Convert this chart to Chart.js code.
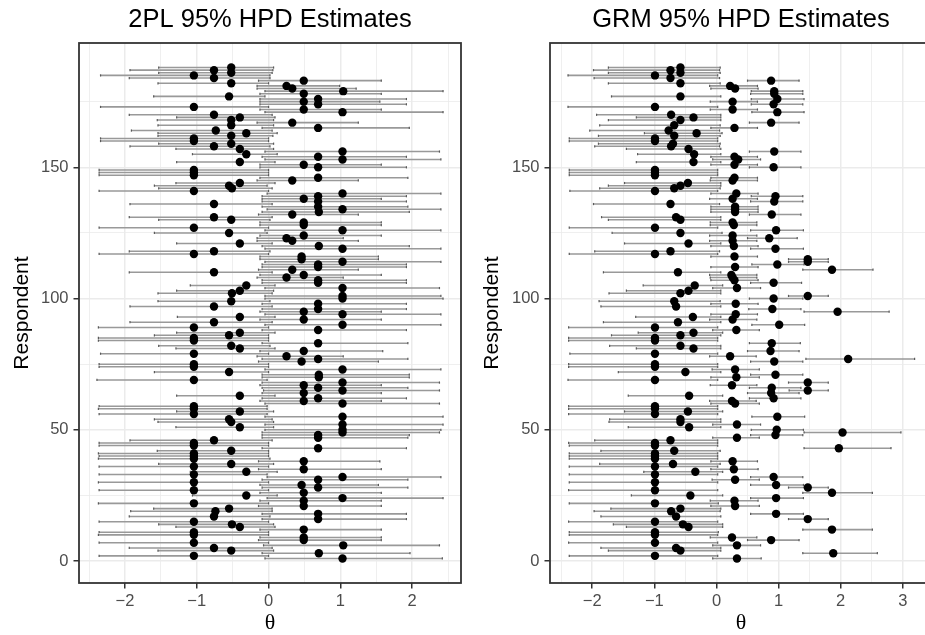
<!DOCTYPE html>
<html>
<head>
<meta charset="utf-8">
<script src="https://cdn.jsdelivr.net/npm/chart.js@4.4.0/dist/chart.umd.min.js"></script>
<style>
  html, body { margin: 0; padding: 0; background: #fff; overflow: hidden; }
  #wrap { position: relative; width: 925px; height: 635px; overflow: hidden; }
  canvas { position: absolute; top: 0; }
  #left { left: 0; }
  #right { left: 470px; }
</style>
</head>
<body>
<div id="wrap">
  <canvas id="left" width="470" height="635"></canvas>
  <canvas id="right" width="470" height="635"></canvas>
</div>
<script>
// respondent i is at index i-1 in every array
const est2pl = [
  1.03, -1.04, 0.70, -0.52, -0.76, 1.04, -1.04, 0.49, 0.49, -1.04,
  -1.04, 0.49, -0.40, -0.51, -1.04, 0.69, -0.76, 0.69, -0.74, -0.55,
  0.49, -1.04, 0.49, 1.03, -0.31, 0.49, -1.04, 0.69, 0.46, -1.04,
  0.69, 1.03, -1.04, -0.31, 0.49, -1.04, -0.52, 0.49, -1.04, -1.04,
  -1.04, -0.52, 0.69, -1.04, -1.04, -0.76, 0.69, 0.69, 1.03, 1.03,
  -0.40, 1.03, -0.52, -0.55, 1.03, -1.04, -0.40, -1.04, -1.04, 1.03,
  0.49, 0.69, -0.40, 0.49, 1.03, 0.69, 0.49, 1.03, -1.04, 0.70,
  0.70, -0.55, 1.03, -1.04, -1.04, 0.46, 0.69, 0.25, -1.04, 0.49,
  -0.40, -0.52, 0.69, -1.04, -1.04, -0.55, -0.40, 0.69, -1.04, 1.03,
  -0.76, 0.49, -0.40, 1.03, 0.49, 0.69, -0.76, 0.69, -0.52, 1.03,
  1.03, -0.51, -0.40, 1.03, -0.31, 0.69, 0.69, 0.25, 0.49, -0.76,
  0.33, 0.69, 0.69, 1.03, 0.46, 0.46, -1.04, -0.76, 1.03, 0.70,
  -0.40, 0.33, 0.25, 0.49, -0.55, 1.03, -1.04, 0.49, 0.49, -0.52,
  -0.76, 0.33, 0.70, 1.03, 0.69, -0.76, 0.69, 0.49, 0.69, 1.03,
  -1.04, -0.51, -0.55, -0.40, 0.33, 0.69, -1.04, -1.04, -1.04, 0.69,
  0.49, -0.40, 1.03, 0.69, -0.31, 1.03, -0.40, -0.76, -0.52, -1.04,
  -1.04, -0.52, -0.31, -0.735, 0.69, -0.52, 0.33, -0.52, -0.40, -0.76,
  1.03, 0.49, -1.04, 0.69, 0.49, 0.69, -0.55, 0.49, 1.04, 0.33,
  0.25, -0.52, 0.49, -0.76, -1.04, -0.52, -0.76, -0.52
];
const lower2pl = [
  -0.05, -2.36, -0.09, -1.54, -1.94, -0.07, -2.36, -0.14, -0.12, -2.37,
  -2.36, -0.12, -1.29, -1.53, -2.36, -0.09, -1.94, -0.09, -1.92, -1.60,
  -0.14, -2.37, -0.12, -0.02, -1.06, -0.12, -2.36, -0.09, -0.12, -2.37,
  -0.09, -0.02, -2.36, -1.09, -0.14, -2.36, -1.53, -0.14, -2.37, -2.36,
  -2.37, -1.55, -0.09, -2.36, -2.36, -1.93, -0.09, -0.09, -0.09, -0.05,
  -1.29, -0.05, -1.54, -1.59, -0.05, -2.36, -1.28, -2.37, -2.36, -0.05,
  -0.12, -0.09, -1.28, -0.09, -0.07, -0.09, -0.12, -0.09, -2.39, -0.09,
  -0.09, -1.59, -0.05, -2.36, -2.36, -0.14, -0.09, -0.16, -2.34, -0.12,
  -1.29, -1.53, -0.09, -2.37, -2.37, -1.59, -1.28, -0.09, -2.37, -0.05,
  -1.93, -0.12, -1.27, -0.05, -0.12, -0.09, -1.93, -0.09, -1.54, -0.05,
  -0.05, -1.54, -1.28, -0.05, -1.09, -0.09, -0.09, -0.16, -0.12, -1.94,
  -0.14, -0.09, -0.09, -0.05, -0.12, -0.12, -2.36, -1.94, -0.05, -0.09,
  -1.28, -0.16, -0.16, -0.12, -1.59, -0.05, -2.36, -0.12, -0.12, -1.53,
  -1.94, -0.14, -0.09, -0.02, -0.09, -1.93, -0.09, -0.09, -0.09, -0.02,
  -2.36, -1.53, -1.59, -1.29, -0.16, -0.12, -2.36, -2.36, -2.36, -0.12,
  -0.12, -1.28, -0.05, -0.09, -1.06, -0.05, -1.29, -1.93, -1.53, -2.34,
  -2.34, -1.54, -1.54, -1.91, -0.09, -1.54, -0.16, -1.55, -1.28, -1.94,
  -0.05, -0.12, -2.34, -0.12, -0.12, -0.12, -1.60, -0.12, -0.05, -0.16,
  -0.16, -1.54, -0.14, -1.94, -2.34, -1.53, -1.93, -1.53
];
const upper2pl = [
  2.42, 0.00, 1.97, 0.07, 0.05, 2.38, 0.00, 1.57, 1.57, 0.00,
  0.00, 1.57, 0.09, 0.07, 0.00, 1.92, 0.02, 1.92, 0.05, 0.05,
  1.57, 0.00, 1.57, 2.43, 0.12, 1.57, 0.00, 1.94, 1.53, 0.00,
  1.94, 2.40, -0.02, 0.12, 1.57, 0.00, 0.07, 1.55, 0.02, 0.00,
  0.00, 0.00, 1.92, 0.00, 0.00, 0.05, 1.94, 1.96, 2.38, 2.40,
  0.07, 2.43, 0.07, 0.05, 2.43, -0.02, 0.07, -0.02, -0.02, 2.38,
  1.57, 1.92, 0.09, 1.57, 2.38, 1.94, 1.57, 2.38, -0.02, 1.96,
  1.96, 0.00, 2.40, 0.00, 0.00, 1.53, 1.94, 1.04, 0.00, 1.59,
  0.09, 0.02, 1.94, 0.00, 0.00, 0.00, 0.09, 1.92, 0.00, 2.40,
  0.05, 1.57, 0.09, 2.40, 1.57, 1.92, 0.05, 1.92, 0.02, 2.43,
  2.40, 0.05, 0.07, 2.38, 0.09, 1.92, 1.92, 1.04, 1.57, 0.05,
  1.25, 1.92, 1.92, 2.40, 1.53, 1.53, 0.00, 0.02, 2.40, 1.96,
  0.05, 1.25, 1.04, 1.57, -0.02, 2.40, 0.00, 1.57, 1.57, 0.02,
  0.05, 1.25, 1.96, 2.40, 1.94, 0.05, 1.92, 1.57, 1.92, 2.40,
  0.00, 0.05, -0.02, 0.09, 1.25, 1.94, 0.00, 0.00, 0.00, 1.92,
  1.57, 0.09, 2.40, 1.92, 0.12, 2.38, 0.07, 0.02, 0.07, 0.00,
  0.00, 0.06, 0.12, 0.05, 1.96, 0.07, 1.25, 0.07, 0.09, 0.05,
  2.43, 1.57, 0.00, 1.92, 1.55, 1.92, -0.05, 1.57, 2.43, 1.22,
  0.99, 0.00, 1.57, 0.02, 0.02, 0.05, 0.06, 0.07
];
const estGrm = [
  0.33, -0.99, 1.88, -0.58, -0.65, 0.33, -0.99, 0.88, 0.25, -0.99,
  -0.99, 1.86, -0.45, -0.54, -0.99, 1.47, -0.65, 0.96, -0.73, -0.58,
  0.30, -0.99, 0.29, 0.96, -0.42, 1.86, -0.99, 1.47, 0.96, -0.99,
  0.30, 0.92, -0.99, -0.34, 0.28, -0.99, -0.70, 0.26, -0.99, -0.99,
  -0.99, -0.68, 1.97, -0.99, -0.99, -0.74, 0.33, 0.95, 2.03, 0.97,
  -0.44, 0.33, -0.58, -0.58, 0.98, -0.99, -0.46, -0.99, -0.99, 0.30,
  0.25, 0.92, -0.44, 0.88, 1.47, 0.89, 0.25, 1.47, -0.99, 0.32,
  0.95, -0.50, 0.30, -0.99, -0.99, 0.93, 2.12, 0.22, -0.99, 0.87,
  -0.37, -0.58, 0.89, -0.99, -0.99, -0.58, -0.37, 0.32, -0.99, 1.01,
  -0.62, 0.26, -0.38, 0.31, 1.95, 0.90, -0.65, 0.31, -0.68, 0.92,
  1.47, -0.58, -0.45, 0.33, -0.35, 0.92, 0.29, 0.26, 0.24, -0.62,
  1.86, 0.30, 0.98, 1.47, 1.47, 0.29, -0.99, -0.74, 0.95, 0.28,
  -0.45, 0.26, 0.85, 0.26, -0.58, 0.96, -0.99, 0.28, 0.26, -0.58,
  -0.65, 0.89, 0.30, 0.30, 0.30, -0.74, 0.93, 0.26, 0.95, 0.32,
  -0.99, -0.68, -0.58, -0.46, 0.26, 0.29, -0.99, -0.99, -0.99, 0.92,
  0.29, -0.37, 0.35, 0.29, -0.36, 0.93, -0.45, -0.73, -0.70, -0.99,
  -0.99, -0.68, -0.32, -0.77, 0.29, -0.68, 0.88, -0.58, -0.37, -0.73,
  0.98, 0.26, -0.99, 0.92, 0.26, 0.98, -0.58, 0.93, 0.93, 0.30,
  0.22, -0.58, 0.88, -0.74, -0.99, -0.58, -0.74, -0.58
];
const lowerGrm = [
  -0.06, -2.37, 1.39, -1.74, -1.86, -0.06, -2.38, 0.50, -0.10, -2.37,
  -2.37, 1.39, -1.45, -1.66, -2.38, 1.16, -1.86, 0.55, -1.97, -1.70,
  -0.09, -2.37, -0.10, 0.55, -1.37, 1.39, -2.38, 1.16, 0.55, -2.37,
  -0.07, 0.55, -2.37, -1.17, -0.09, -2.37, -1.88, -0.09, -2.37, -2.37,
  -2.37, -1.86, 1.41, -2.37, -2.38, -1.96, -0.06, 0.55, 1.41, 0.56,
  -1.42, -0.06, -1.73, -1.72, 0.57, -2.38, -1.48, -2.38, -2.38, -0.09,
  -0.11, 0.53, -1.42, 0.50, 1.17, 0.53, -0.10, 1.16, -2.39, -0.09,
  0.55, -1.58, -0.07, -2.38, -2.38, 0.55, 1.44, -0.11, -2.36, 0.50,
  -1.29, -1.72, 0.53, -2.38, -2.38, -1.69, -1.26, -0.06, -2.38, 0.57,
  -1.82, -0.11, -1.30, -0.09, 1.41, 0.52, -1.86, -0.09, -1.89, 0.53,
  1.16, -1.73, -1.45, -0.06, -1.18, 0.55, -0.09, -0.10, -0.11, -1.82,
  1.39, -0.09, 0.57, 1.16, 1.16, -0.09, -2.37, -1.96, 0.55, -0.09,
  -1.48, -0.11, 0.50, -0.11, -1.68, 0.55, -2.37, -0.10, -0.10, -1.74,
  -1.85, 0.53, -0.09, -0.09, -0.09, -1.98, 0.55, -0.11, 0.56, -0.09,
  -2.36, -1.88, -1.74, -1.48, -0.10, -0.09, -2.37, -2.37, -2.37, 0.53,
  -0.09, -1.29, -0.06, -0.09, -1.27, 0.53, -1.45, -1.96, -1.90, -2.37,
  -2.37, -1.90, -1.16, -2.04, -0.09, -1.88, 0.53, -1.74, -1.29, -1.93,
  0.57, -0.10, -2.39, 0.56, -0.10, 0.56, -1.69, 0.55, 0.56, -0.09,
  -0.11, -1.74, 0.50, -1.97, -2.39, -1.74, -1.98, -1.74
];
const upperGrm = [
  0.72, 0.02, 2.59, 0.07, 0.07, 0.71, 0.02, 1.33, 0.65, 0.02,
  0.03, 2.51, 0.10, 0.10, 0.02, 1.80, 0.07, 1.40, 0.06, 0.07,
  0.69, 0.03, 0.67, 1.40, 0.10, 2.51, 0.02, 1.80, 1.40, 0.02,
  0.69, 1.39, 0.02, 0.10, 0.67, 0.02, 0.06, 0.66, 0.02, 0.02,
  0.02, 0.06, 2.81, 0.02, 0.02, 0.02, 0.69, 1.39, 2.97, 1.40,
  0.07, 0.71, 0.07, 0.07, 1.42, 0.02, 0.10, 0.02, 0.02, 0.69,
  0.64, 1.36, 0.10, 1.33, 1.80, 1.36, 0.65, 1.80, 0.02, 0.69,
  1.39, 0.07, 0.69, 0.02, 0.02, 1.39, 3.19, 0.64, 0.02, 1.33,
  0.07, 0.07, 1.35, 0.02, 0.02, 0.07, 0.10, 0.69, 0.02, 1.42,
  0.07, 0.65, 0.07, 0.66, 2.78, 1.36, 0.07, 0.67, 0.06, 1.39,
  1.80, 0.07, 0.07, 0.71, 0.10, 1.37, 0.67, 0.65, 0.65, 0.07,
  2.52, 0.67, 1.41, 1.80, 1.80, 0.66, 0.02, 0.05, 1.40, 0.67,
  0.07, 0.65, 1.30, 0.65, 0.09, 1.40, 0.02, 0.65, 0.65, 0.07,
  0.07, 1.36, 0.67, 0.67, 0.67, 0.05, 1.39, 0.66, 1.39, 0.67,
  0.02, 0.06, 0.07, 0.07, 0.66, 0.66, 0.02, 0.02, 0.02, 1.36,
  0.66, 0.07, 0.71, 0.66, 0.07, 1.36, 0.07, 0.05, 0.06, 0.02,
  0.02, 0.06, 0.09, 0.05, 0.66, 0.06, 1.33, 0.07, 0.07, 0.07,
  1.41, 0.66, 0.02, 1.39, 0.66, 1.41, 0.07, 1.39, 1.39, 0.67,
  0.66, 0.06, 1.33, 0.05, 0.02, 0.06, 0.05, 0.06
];

// tick positions (major + minor grid), labels shown on the major ones only
const yTicks = [0, 25, 50, 75, 100, 125, 150, 175];
const xTicks2pl = [-2.5, -2, -1.5, -1, -0.5, 0, 0.5, 1, 1.5, 2, 2.5];
const xTicksGrm = [-2.5, -2, -1.5, -1, -0.5, 0, 0.5, 1, 1.5, 2, 2.5, 3];

const SANS = "'Liberation Sans', Arial, sans-serif";

function fmtTheta(v) {
  if (!Number.isInteger(v)) return '';
  return v < 0 ? '\u2212' + Math.abs(v) : String(v);
}

const panelBorder = {
  id: 'panelBorder',
  afterDatasetsDraw(chart) {
    const { ctx, chartArea: a } = chart;
    ctx.save();
    ctx.strokeStyle = '#333333';
    ctx.lineWidth = 1.8;
    ctx.strokeRect(a.left, a.top, a.right - a.left, a.bottom - a.top);
    ctx.restore();
  }
};

function makePanel(id, title, est, lo, hi, xMin, xMax, xTicks, yWidth, rightPad) {
  const points = est.map((v, i) => ({ x: v, y: i + 1 }));
  const ends = [];
  const bars = [];
  lo.forEach((l, i) => {
    ends.push({ x: l, y: i + 1 }, { x: hi[i], y: i + 1 });
    bars.push({ x: l, y: i + 1 }, { x: hi[i], y: i + 1 }, { x: null, y: null });
  });

  return new Chart(document.getElementById(id), {
    type: 'scatter',
    data: {
      datasets: [
        {
          data: points,
          pointRadius: 4.2,
          backgroundColor: '#000',
          pointBackgroundColor: '#000',
          borderWidth: 0,
          pointBorderWidth: 0,
          order: 0
        },
        {
          data: ends,
          pointStyle: 'line',
          rotation: 90,
          pointRadius: 1.1,
          borderColor: '#5a5a5a',
          pointBorderColor: '#5a5a5a',
          pointBorderWidth: 1.2,
          order: 1
        },
        {
          data: bars,
          showLine: true,
          spanGaps: false,
          borderColor: '#999999',
          borderWidth: 1.6,
          pointRadius: 0,
          order: 2
        }
      ]
    },
    options: {
      responsive: false,
      animation: false,
      events: [],
      layout: { padding: { top: 0, right: rightPad, bottom: 0, left: 0 } },
      plugins: {
        legend: { display: false },
        tooltip: { enabled: false },
        title: {
          display: true,
          text: title,
          fullSize: false,
          color: '#000',
          font: { family: SANS, size: 25.5, weight: 'normal' },
          padding: { top: 4.5, bottom: 7.9 }
        }
      },
      scales: {
        x: {
          type: 'linear',
          min: xMin,
          max: xMax,
          afterBuildTicks: s => { s.ticks = xTicks.map(v => ({ value: v })); },
          afterFit: s => { s.height = 52; },
          border: { display: false },
          grid: {
            color: '#EBEBEB',
            lineWidth: c => Number.isInteger(c.tick.value) ? 1.5 : 0.8,
            tickColor: c => Number.isInteger(c.tick.value) ? '#333333' : 'rgba(0,0,0,0)',
            tickLength: 5.5,
            tickWidth: 1.5
          },
          ticks: {
            autoSkip: false,
            maxRotation: 0,
            padding: 3,
            color: '#4D4D4D',
            font: { family: SANS, size: 16.5 },
            callback: v => fmtTheta(v)
          },
          title: {
            display: true,
            text: '\u03B8',
            color: '#000',
            font: { family: "'Liberation Serif', 'DejaVu Serif', serif", size: 22, lineHeight: 1 },
            padding: { top: 0, bottom: 0.5 }
          }
        },
        y: {
          type: 'linear',
          min: -8.35,
          max: 197.35,
          afterBuildTicks: s => { s.ticks = yTicks.map(v => ({ value: v })); },
          afterFit: s => { s.width = yWidth; },
          border: { display: false },
          grid: {
            color: '#EBEBEB',
            lineWidth: c => c.tick.value % 50 === 0 ? 1.5 : 0.8,
            tickColor: c => c.tick.value % 50 === 0 ? '#333333' : 'rgba(0,0,0,0)',
            tickLength: 5.5,
            tickWidth: 1.5
          },
          ticks: {
            autoSkip: false,
            padding: 5,
            color: '#4D4D4D',
            font: { family: SANS, size: 16.5 },
            callback: v => (v % 50 === 0 ? String(v) : '')
          },
          title: {
            display: true,
            text: 'Respondent',
            color: '#000',
            font: { family: SANS, size: 21 },
            padding: { top: 9.4, bottom: 0 }
          }
        }
      }
    },
    plugins: [panelBorder]
  });
}

makePanel('left', '2PL 95% HPD Estimates', est2pl, lower2pl, upper2pl,
  -2.64, 2.68, xTicks2pl, 79, 9);
makePanel('right', 'GRM 95% HPD Estimates', estGrm, lowerGrm, upperGrm,
  -2.68, 3.47, xTicksGrm, 80, 8);
</script>
</body>
</html>
